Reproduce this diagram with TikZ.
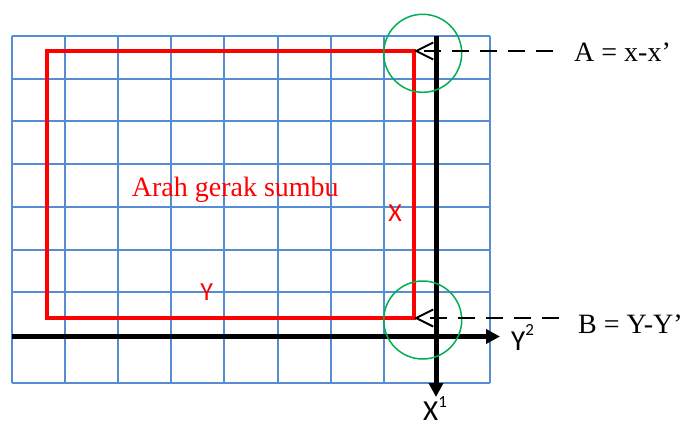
\documentclass[tikz,border=0pt]{standalone}
\usepackage{fontspec}
\setmainfont{Liberation Serif}
\newfontfamily\calib{Carlito}
\usetikzlibrary{arrows.meta}
\definecolor{gridblue}{RGB}{84,141,212}
\definecolor{okgreen}{RGB}{0,176,80}
\tikzset{
  gridline/.style={draw=gridblue, line width=2pt},
  redline/.style={draw=red, line width=4pt},
  axisline/.style={draw=black, line width=5pt, -{Triangle[width=14pt,length=14pt]}},
  ring/.style={circle, draw=okgreen, line width=1.5pt, minimum size=78pt, inner sep=0pt},
  dashline/.style={draw=black, line width=2pt, dash pattern=on 17pt off 11pt, -{Straight Barb[length=17pt,width=17pt,line width=2pt]}},
  serlabel/.style={inner sep=0pt, font=\fontsize{28}{30}\selectfont},
  redsans/.style={inner sep=0pt, text=red, font=\calib\fontsize{26}{28}\selectfont},
  axsans/.style={inner sep=0pt, font=\calib\fontsize{29}{31}\selectfont},
}
\begin{document}
\begin{tikzpicture}[x=1pt,y=-1pt]
\useasboundingbox (0,0) rectangle (692,425);
% grid
\foreach \i in {0,...,9}
  \draw[gridline] ({12+53.1*\i},36) -- ({12+53.1*\i},383);
\foreach \yy in {36,78.7,121.4,164.1,206.8,249.5,292.2,334.9,383}
  \draw[gridline] (12,\yy) -- (490,\yy);
% red rectangle
\coordinate (rTL) at (46.7,51);
\coordinate (rA) at (414,51);
\coordinate (rB) at (414,318);
\draw[redline] (rTL) rectangle (rB);
% axes
\coordinate (vTop) at (436,36);
\coordinate (vEnd) at (436,397);
\coordinate (hLeft) at (12,336.5);
\coordinate (hEnd) at (500,336.5);
\draw[axisline] (vTop) -- (vEnd);
\draw[axisline] (hLeft) -- (hEnd);
% circles
\node[ring] (cA) at (422.7,53.3) {};
\node[ring] (cB) at (422.7,320) {};
% dashed pointers
\coordinate (dA) at (553,51);
\coordinate (dB) at (559,318);
\draw[dashline] (dA) -- (rA);
\draw[dashline] (dB) -- (rB);
% labels
\node[serlabel, anchor=base west] (labA) at (574,61.7) {A = x-x’};
\node[serlabel, anchor=base west] (labB) at (578,333.3) {B = Y-Y’};
\node[serlabel, anchor=base west, text=red] (labArah) at (131.7,196) {Arah gerak sumbu};
\node[redsans, anchor=base] (labX) at (395,221.7) {X};
\node[redsans, anchor=base] (labY) at (206.7,300) {Y};
\node[axsans, anchor=base west] (labY2) at (511,350) {Y\raisebox{15pt}{\fontsize{17}{17}\selectfont 2}};
\node[axsans, anchor=base west] (labX1) at (423,420) {X\raisebox{13pt}{\fontsize{17}{17}\selectfont 1}};
\end{tikzpicture}
\end{document}
